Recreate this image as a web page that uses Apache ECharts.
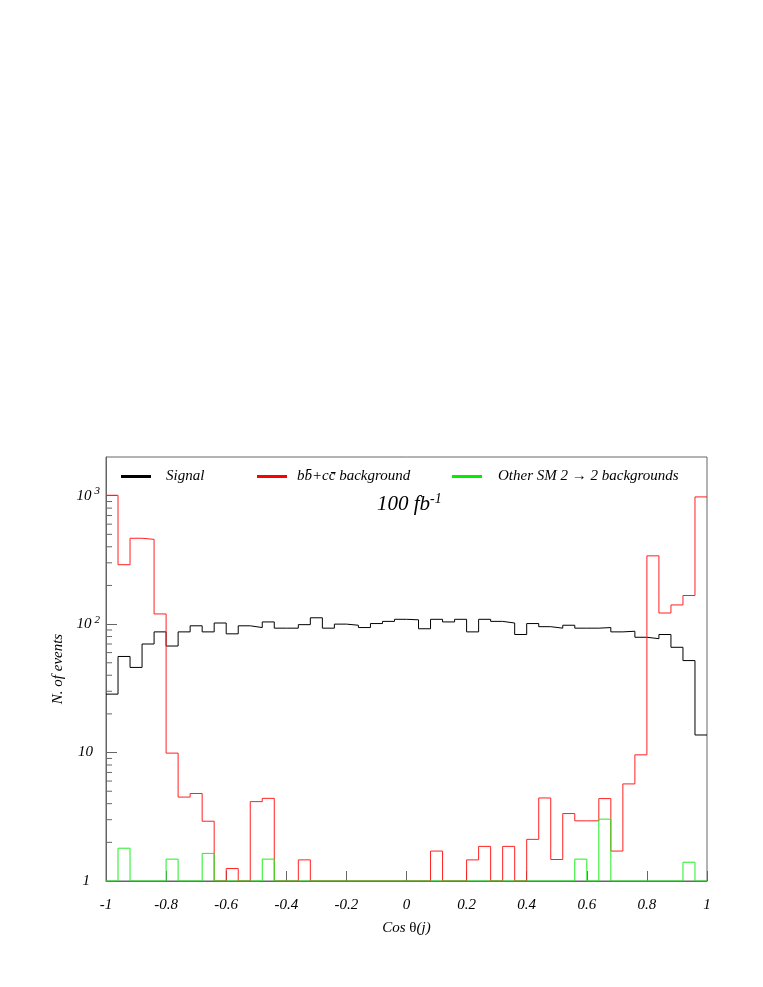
<!DOCTYPE html>
<html>
<head>
<meta charset="utf-8">
<script src="https://cdn.jsdelivr.net/npm/echarts@6/dist/echarts.min.js"></script>
<style>
  html, body { margin: 0; background: #fff; }
  #chart { width: 763px; height: 987px; }
</style>
</head>
<body>
<div id="chart"></div>
<script>
// histogram binning: 50 bins from -1 to 1
const binLow = -1;
const binWidth = 0.04;

const signal = [28.5, 56, 46, 70, 87, 67.5, 87, 97, 87, 102,
                84, 97, 94, 104, 93, 93, 99, 112, 93, 100,
                98, 94, 101, 105, 109, 108, 92, 109, 104, 109,
                87, 109, 105, 102, 83, 101, 95.5, 93, 98, 93,
                93, 94, 87, 88, 79, 77, 83, 66, 52, 13.7];
const bbcc = [1007, 290, 466, 457, 120, 9.9, 4.5, 4.8, 2.92, 0,
              1.25, 0, 4.15, 4.4, 0, 0, 1.46, 0, 0, 0,
              0, 0, 0, 0, 0, 0, 0, 1.71, 0, 0,
              1.46, 1.86, 0, 1.86, 0, 2.11, 4.43, 1.47, 3.35, 2.94,
              2.94, 4.38, 1.71, 5.7, 9.6, 340, 122, 141, 167, 978];
const otherSM = [0, 1.8, 0, 0, 0, 1.48, 0, 0, 1.64, 0,
                 0, 0, 0, 1.48, 0, 0, 0, 0, 0, 0,
                 0, 0, 0, 0, 0, 0, 0, 0, 0, 0,
                 0, 0, 0, 0, 0, 0, 0, 0, 0, 1.48,
                 0, 3.03, 0, 0, 0, 0, 0, 0, 1.4, 0];

const seriesNames = ['Signal', 'bb\u0304+cc\u0304 background', 'Other SM 2 \u2192 2 backgrounds'];
const yMin = 1;
const yMax = 2000;

const font = 'Liberation Serif';

// empty bins sit on the axis floor (log axis)
function steps(values) {
  const pts = values.map((v, i) => [binLow + i * binWidth, Math.max(v, yMin)]);
  pts.push([binLow + values.length * binWidth, Math.max(values[values.length - 1], yMin)]);
  return pts;
}

// minor log ticks 2..9 in each decade
const minorTicks = [];
for (let d = 1; d < yMax; d *= 10) {
  for (let k = 2; k <= 9; k++) {
    if (k * d < yMax) minorTicks.push([-1, k * d]);
  }
}

function isDecade(v) {
  const e = Math.log10(v);
  return Math.abs(e - Math.round(e)) < 1e-6;
}

const chart = echarts.init(document.getElementById('chart'));

const legendBase = {
  icon: 'rect',
  itemWidth: 30,
  itemHeight: 3,
  top: 464,
  selectedMode: false,
  textStyle: { fontFamily: font, fontStyle: 'italic', fontSize: 15, color: '#000' }
};

chart.setOption({
  animation: false,
  title: {
    text: '{a|100 fb}{s|-1}',
    left: 372,
    top: 487,
    textStyle: {
      rich: {
        a: { fontFamily: font, fontStyle: 'italic', fontWeight: 'normal', fontSize: 21, color: '#000', lineHeight: 24 },
        s: { fontFamily: font, fontStyle: 'italic', fontWeight: 'normal', fontSize: 14, color: '#000', verticalAlign: 'top', lineHeight: 14 }
      }
    }
  },
  legend: [
    Object.assign({}, legendBase, { data: [seriesNames[0]], left: 116,
      textStyle: Object.assign({}, legendBase.textStyle, { padding: [0, 0, 0, 10] }) }),
    Object.assign({}, legendBase, { data: [seriesNames[1]], left: 252,
      textStyle: Object.assign({}, legendBase.textStyle, { padding: [0, 0, 0, 5] }) }),
    Object.assign({}, legendBase, { data: [seriesNames[2]], left: 447,
      textStyle: Object.assign({}, legendBase.textStyle, { padding: [0, 0, 0, 11] }) })
  ],
  grid: {
    left: 106, right: 56, top: 457, bottom: 106,
    show: true, borderColor: '#666', borderWidth: 1
  },
  xAxis: {
    type: 'value',
    min: -1,
    max: 1,
    interval: 0.2,
    name: '{i|Cos }{g|\u03b8}{i|(j)}',
    nameLocation: 'middle',
    nameGap: 40,
    nameTextStyle: {
      rich: {
        i: { fontFamily: font, fontStyle: 'italic', fontSize: 15, color: '#000' },
        g: { fontFamily: font, fontSize: 15, color: '#000' }
      }
    },
    axisLine: { onZero: false, lineStyle: { color: '#666' } },
    axisTick: { inside: true, length: 10, lineStyle: { color: '#666' } },
    splitLine: { show: false },
    axisLabel: { margin: 17, fontFamily: font, fontStyle: 'italic', fontSize: 15, color: '#000' }
  },
  yAxis: {
    type: 'log',
    logBase: 10,
    min: yMin,
    max: yMax,
    name: 'N. of events',
    nameLocation: 'middle',
    nameGap: 40,
    nameTextStyle: { fontFamily: font, fontStyle: 'italic', fontSize: 15, color: '#000' },
    axisLine: { show: true, onZero: false, lineStyle: { color: '#666' } },
    axisTick: { inside: true, length: 11, lineStyle: { color: '#666' } },
    splitLine: { show: false },
    axisLabel: {
      margin: 4,
      showMaxLabel: false,
      formatter: v => {
        if (!isDecade(v)) return '';
        const e = Math.round(Math.log10(v));
        if (e === 0) return '{p1|1}';
        if (e === 1) return '{p10|10}';
        return '{b|10}{s|' + e + '}';
      },
      rich: {
        p1: { fontFamily: font, fontStyle: 'italic', fontSize: 15, color: '#000', padding: [0, 12, 0, 0] },
        p10: { fontFamily: font, fontStyle: 'italic', fontSize: 15, color: '#000', padding: [0, 9, 0, 0] },
        b: { fontFamily: font, fontStyle: 'italic', fontSize: 15, color: '#000', lineHeight: 20 },
        s: { fontFamily: font, fontStyle: 'italic', fontSize: 11, color: '#000', verticalAlign: 'top', lineHeight: 12, padding: [0, 2, 0, 3] }
      }
    }
  },
  series: [
    {
      name: seriesNames[0], type: 'line', step: 'end', symbol: 'none',
      data: steps(signal), color: '#000',
      lineStyle: { color: '#000', width: 1 }
    },
    {
      name: seriesNames[1], type: 'line', step: 'end', symbol: 'none',
      data: steps(bbcc), color: '#ff0000',
      lineStyle: { color: '#ff2020', width: 1 }
    },
    {
      name: seriesNames[2], type: 'line', step: 'end', symbol: 'none',
      data: steps(otherSM), color: '#00ee00',
      lineStyle: { color: '#22ee22', width: 1 }
    },
    {
      type: 'custom',
      silent: true,
      data: minorTicks,
      renderItem: (params, api) => {
        const p = api.coord([api.value(0), api.value(1)]);
        return {
          type: 'line',
          shape: { x1: p[0], y1: p[1], x2: p[0] + 6, y2: p[1] },
          style: { stroke: '#666', lineWidth: 1 }
        };
      }
    }
  ]
});
</script>
</body>
</html>
